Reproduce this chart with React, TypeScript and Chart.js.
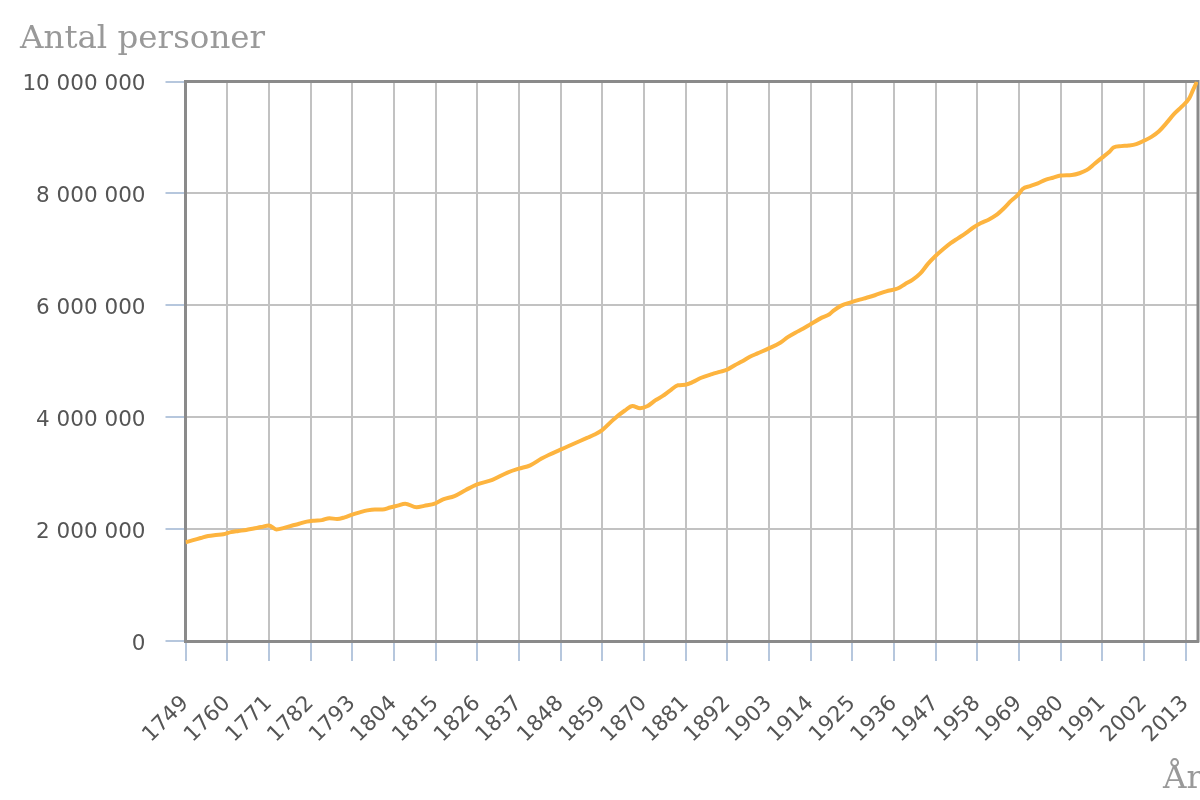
import React, { useEffect, useRef } from 'react';
import { Chart, registerables } from 'chart.js';

Chart.register(...registerables);

// Year of each reading
const years = [
  1749, 1751, 1753, 1755, 1757, 1759, 1761, 1763, 1765, 1767, 1769, 1771, 1773, 1775, 1777, 1779,
  1781, 1783, 1785, 1787, 1789, 1791, 1793, 1795, 1797, 1799, 1801, 1803, 1805, 1807, 1810, 1812,
  1815, 1817, 1820, 1823, 1826, 1830, 1834, 1837, 1840, 1843, 1845, 1848, 1850, 1853, 1855, 1857,
  1859, 1862, 1865, 1867, 1869, 1871, 1873, 1875, 1877, 1879, 1881, 1883, 1885, 1888, 1890, 1892,
  1894, 1896, 1898, 1900, 1903, 1906, 1908, 1910, 1912, 1914, 1917, 1919, 1920, 1922, 1925, 1928,
  1931, 1934, 1937, 1939, 1941, 1943, 1945, 1947, 1949, 1951, 1953, 1955, 1957, 1959, 1961, 1963,
  1965, 1967, 1969, 1970, 1972, 1974, 1976, 1978, 1980, 1983, 1985, 1987, 1989, 1991, 1993, 1994,
  1996, 1998, 2000, 2002, 2004, 2006, 2008, 2010, 2012, 2014, 2015, 2016,
];

// Population of Sweden (persons)
const population = [
  1765000, 1802000, 1841000, 1878000, 1895000, 1907000, 1946000, 1966000, 1985000, 2011000, 2036000, 2065000, 1995000, 2021000, 2060000, 2095000,
  2133000, 2150000, 2160000, 2195000, 2180000, 2210000, 2260000, 2300000, 2335000, 2352000, 2350000, 2385000, 2420000, 2455000, 2390000, 2415000,
  2460000, 2530000, 2590000, 2700000, 2800000, 2880000, 3010000, 3080000, 3140000, 3260000, 3330000, 3420000, 3480000, 3570000, 3630000, 3690000,
  3770000, 3960000, 4120000, 4200000, 4160000, 4200000, 4300000, 4380000, 4480000, 4570000, 4580000, 4630000, 4700000, 4770000, 4810000, 4850000,
  4930000, 5000000, 5080000, 5140000, 5230000, 5330000, 5430000, 5510000, 5580000, 5660000, 5780000, 5840000, 5900000, 5990000, 6060000, 6120000,
  6180000, 6250000, 6300000, 6380000, 6460000, 6570000, 6740000, 6880000, 7000000, 7110000, 7200000, 7290000, 7390000, 7470000, 7530000, 7610000,
  7730000, 7870000, 7990000, 8080000, 8130000, 8180000, 8240000, 8280000, 8320000, 8330000, 8360000, 8420000, 8530000, 8640000, 8750000, 8820000,
  8845000, 8855000, 8880000, 8940000, 9010000, 9110000, 9260000, 9420000, 9550000, 9700000, 9850000, 9995000,
];

const X_FIRST_TICK = 1749;
const X_TICK_STEP = 11;
const X_MAX = 2016.3;
const Y_MAX = 10000000;
const Y_TICK_STEP = 2000000;

const yTitle = 'Antal personer';
const xTitle = 'År';

const formatThousands = (v: number) =>
  Math.round(v).toString().replace(/\B(?=(\d{3})+(?!\d))/g, ' ');

const framePlugin = {
  id: 'frame',
  beforeDatasetsDraw(chart: any) {
    const { ctx, chartArea: a } = chart;
    ctx.save();
    ctx.strokeStyle = '#8a8a8a';
    ctx.lineWidth = 3;
    ctx.beginPath();
    ctx.moveTo(a.left - 1.5, a.top);
    ctx.lineTo(a.right, a.top);
    ctx.lineTo(a.right, a.bottom + 1.5);
    ctx.stroke();
    ctx.restore();
  },
  afterDraw(chart: any) {
    const { ctx } = chart;
    ctx.save();
    ctx.fillStyle = '#999999';
    ctx.font = '32.5px "DejaVu Serif"';
    ctx.textBaseline = 'alphabetic';
    ctx.textAlign = 'left';
    ctx.fillText(yTitle, 20, 48);
    ctx.fillText(xTitle, 1163, 788);
    ctx.restore();
  },
};

export default function App() {
  const canvasRef = useRef<HTMLCanvasElement | null>(null);

  useEffect(() => {
    if (!canvasRef.current) return;
    const chart = new Chart(canvasRef.current, {
      type: 'line',
      data: {
        datasets: [
          {
            data: years.map((y, i) => ({ x: y, y: population[i] })),
            borderColor: '#fdb43f',
            borderWidth: 4,
            pointRadius: 0,
            cubicInterpolationMode: 'monotone',
            fill: false,
          },
        ],
      },
      options: {
        responsive: false,
        animation: false,
        devicePixelRatio: 1,
        layout: { padding: { top: 81.5, right: 2, left: 0, bottom: 0 } },
        plugins: { legend: { display: false }, tooltip: { enabled: false } },
        scales: {
          x: {
            type: 'linear',
            min: X_FIRST_TICK,
            max: X_MAX,
            afterFit: (s: any) => {
              s.height = 159;
              s.paddingLeft = 0;
              s.paddingRight = 0;
            },
            grid: {
              color: '#c2c2c2',
              lineWidth: 2,
              tickColor: '#b6c7dd',
              tickLength: 20,
              tickWidth: 2,
            },
            border: { color: '#8a8a8a', width: 3 },
            ticks: {
              stepSize: X_TICK_STEP,
              includeBounds: false,
              autoSkip: false,
              minRotation: 45,
              maxRotation: 45,
              padding: 30,
              color: '#555555',
              font: { family: '"DejaVu Sans"', size: 21.5 },
              callback: (v: any) => String(v),
            },
          },
          y: {
            type: 'linear',
            min: 0,
            max: Y_MAX,
            afterFit: (s: any) => {
              s.width = 185.5;
            },
            grid: {
              color: '#c2c2c2',
              lineWidth: 2,
              tickColor: '#b6c7dd',
              tickLength: 20,
              tickWidth: 2,
            },
            border: { color: '#8a8a8a', width: 3 },
            ticks: {
              stepSize: Y_TICK_STEP,
              padding: 20,
              labelOffset: 3,
              color: '#555555',
              font: { family: '"DejaVu Sans"', size: 21.5 },
              callback: (v: any) => formatThousands(Number(v)),
            },
          },
        },
      },
      plugins: [framePlugin],
    } as any);
    return () => chart.destroy();
  }, []);

  return (
    <div style={{ position: 'absolute', left: 0, top: 0, width: 1200, height: 800, background: '#fff' }}>
      <canvas ref={canvasRef} width={1200} height={800} style={{ width: 1200, height: 800, display: 'block' }} />
    </div>
  );
}
